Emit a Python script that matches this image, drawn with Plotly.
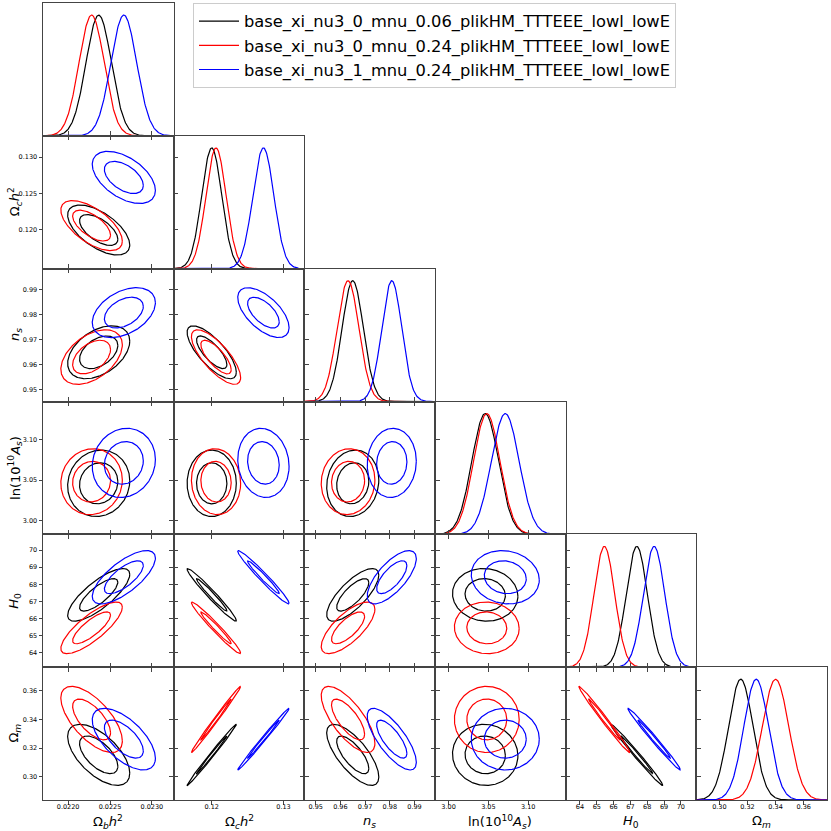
import numpy as np
import plotly.graph_objects as go

# ---------------- data ----------------
param_labels = [
    "Ω<sub><i>b</i></sub><i>h</i><sup>2</sup>",
    "Ω<sub><i>c</i></sub><i>h</i><sup>2</sup>",
    "<i>n<sub>s</sub></i>",
    "ln(10<sup>10</sup><i>A<sub>s</sub></i>)",
    "<i>H</i><sub>0</sub>",
    "Ω<sub><i>m</i></sub>",
]
axis_ranges = [
    [0.02170, 0.02326],
    [0.1147, 0.1329],
    [0.9454, 0.9983],
    [2.983, 3.147],
    [63.15, 70.92],
    [0.2836, 0.3766],
]
xtick_vals = [
    [0.0220, 0.0225, 0.0230],
    [0.12, 0.13],
    [0.95, 0.96, 0.97, 0.98, 0.99],
    [3.00, 3.05, 3.10],
    [64, 65, 66, 67, 68, 69, 70],
    [0.30, 0.32, 0.34, 0.36],
]
xtick_text = [
    ["0.0220", "0.0225", "0.0230"],
    ["0.12", "0.13"],
    ["0.95", "0.96", "0.97", "0.98", "0.99"],
    ["3.00", "3.05", "3.10"],
    ["64", "65", "66", "67", "68", "69", "70"],
    ["0.30", "0.32", "0.34", "0.36"],
]
ytick_vals = [
    [],
    [0.120, 0.125, 0.130],
    [0.95, 0.96, 0.97, 0.98, 0.99],
    [3.00, 3.05, 3.10],
    [64, 65, 66, 67, 68, 69, 70],
    [0.30, 0.32, 0.34, 0.36],
]
ytick_text = [
    [],
    ["0.120", "0.125", "0.130"],
    ["0.95", "0.96", "0.97", "0.98", "0.99"],
    ["3.00", "3.05", "3.10"],
    ["64", "65", "66", "67", "68", "69", "70"],
    ["0.30", "0.32", "0.34", "0.36"],
]

chain_names = [
    "base_xi_nu3_0_mnu_0.06_plikHM_TTTEEE_lowl_lowE",
    "base_xi_nu3_0_mnu_0.24_plikHM_TTTEEE_lowl_lowE",
    "base_xi_nu3_1_mnu_0.24_plikHM_TTTEEE_lowl_lowE",
]
chain_colors = ["#000000", "#ff0000", "#0000ff"]

# marginal means / standard deviations  [ombh2, omch2, ns, lnAs, H0, Omega_m]
mean_black = [0.022365, 0.12000, 0.9650, 3.0460, 67.38, 0.3152]
mean_red = [0.022280, 0.12060, 0.9631, 3.0480, 65.45, 0.3400]
mean_blue = [0.022665, 0.12720, 0.9808, 3.0712, 68.41, 0.3262]
sigma_black = [0.0001515, 0.00140, 0.00431, 0.01677, 0.629, 0.00874]
sigma_red = [0.0001500, 0.00140, 0.00444, 0.01661, 0.617, 0.00946]
sigma_blue = [0.0001540, 0.00146, 0.00406, 0.01744, 0.637, 0.00882]

# pairwise correlations, in the order of `pairs`
pairs = [(0, 1), (0, 2), (0, 3), (0, 4), (0, 5),
         (1, 2), (1, 3), (1, 4), (1, 5),
         (2, 3), (2, 4), (2, 5),
         (3, 4), (3, 5),
         (4, 5)]
corr_black = [-0.60, 0.42, 0.08, 0.78, -0.60,
              -0.75, 0.00, -0.975, 0.994,
              0.10, 0.75, -0.72,
              -0.05, -0.03,
              -0.990]
corr_red = [-0.62, 0.45, 0.05, 0.80, -0.65,
            -0.75, -0.05, -0.975, 0.994,
            0.05, 0.72, -0.72,
            -0.03, 0.00,
            -0.990]
corr_blue = [-0.50, 0.40, 0.10, 0.72, -0.62,
             -0.60, -0.10, -0.975, 0.994,
             0.05, 0.70, -0.75,
             -0.10, 0.00,
             -0.990]

contour_levels = [0.68, 0.95]

# ---------------- build figure ----------------
chains = [
    (mean_black, sigma_black, corr_black),
    (mean_red, sigma_red, corr_red),
    (mean_blue, sigma_blue, corr_blue),
]
npar = 6
axc = "#444444"
font_family = "DejaVu Sans"
tickfont = dict(size=6.5, color="black", family=font_family)

ML, MR, MT, MB = 43, 4, 3, 31
W = H = 831
PW = W - ML - MR
PH = H - MT - MB

fig = go.Figure()
layout = {}
axis_id = {}
k = 0
for i in range(npar):
    for j in range(i + 1):
        k += 1
        axis_id[(i, j)] = k
        sfx = "" if k == 1 else str(k)
        xdom = [j / npar, (j + 1) / npar]
        ydom = [1 - (i + 1) / npar, 1 - i / npar]
        diag = (i == j)
        layout["xaxis" + sfx] = dict(
            domain=xdom, anchor="y" + sfx, range=axis_ranges[j],
            tickmode="array", tickvals=xtick_vals[j], ticktext=xtick_text[j],
            showticklabels=(i == npar - 1), ticks="outside", ticklen=3.5,
            tickwidth=1, tickcolor=axc, showline=True, linecolor=axc,
            linewidth=1, mirror=(True if diag else "ticks"),
            showgrid=False, zeroline=False, tickfont=tickfont, ticklabelstandoff=-3,
        )
        if diag:
            layout["yaxis" + sfx] = dict(
                domain=ydom, anchor="x" + sfx, range=[0, 1.1],
                showticklabels=False, ticks="", showline=True, mirror=True,
                linecolor=axc, linewidth=1, showgrid=False, zeroline=False,
            )
        else:
            layout["yaxis" + sfx] = dict(
                domain=ydom, anchor="x" + sfx, range=axis_ranges[i],
                tickmode="array", tickvals=ytick_vals[i], ticktext=ytick_text[i],
                showticklabels=(j == 0), ticks="outside", ticklen=3.5,
                tickwidth=1, tickcolor=axc, showline=True, linecolor=axc,
                linewidth=1, mirror="ticks", showgrid=False, zeroline=False,
                tickfont=tickfont, ticklabelstandoff=0,
            )

t = np.linspace(0, 2 * np.pi, 300)
for c, (mu, sd, rho) in enumerate(chains):
    col = chain_colors[c]
    # 1D marginals on the diagonal
    for i in range(npar):
        kk = axis_id[(i, i)]
        sfx = "" if kk == 1 else str(kk)
        lo, hi = axis_ranges[i]
        xs = np.linspace(lo, hi, 300)
        ys = np.exp(-0.5 * ((xs - mu[i]) / sd[i]) ** 2)
        fig.add_trace(go.Scatter(
            x=xs, y=ys, mode="lines", line=dict(color=col, width=1.2),
            xaxis="x" + sfx, yaxis="y" + sfx,
            name=chain_names[c], legendgroup=chain_names[c],
            showlegend=(i == 0), hoverinfo="skip",
        ))
    # 2D contours
    for (a, b), r in zip(pairs, rho):
        kk = axis_id[(b, a)]
        sfx = "" if kk == 1 else str(kk)
        cov = np.array([[sd[a] ** 2, r * sd[a] * sd[b]],
                        [r * sd[a] * sd[b], sd[b] ** 2]])
        L = np.linalg.cholesky(cov)
        for p in contour_levels:
            rad = np.sqrt(-2 * np.log(1 - p))
            pts = L @ np.vstack([np.cos(t), np.sin(t)]) * rad
            fig.add_trace(go.Scatter(
                x=pts[0] + mu[a], y=pts[1] + mu[b], mode="lines",
                line=dict(color=col, width=1.2),
                xaxis="x" + sfx, yaxis="y" + sfx,
                legendgroup=chain_names[c], showlegend=False, hoverinfo="skip",
            ))

annotations = []
for j in range(npar):
    annotations.append(dict(
        text=param_labels[j], xref="paper", yref="paper",
        x=(j + 0.5) / npar, y=-(811 - (H - MB)) / PH,
        xanchor="center", yanchor="top", showarrow=False,
        font=dict(size=13, color="black", family=font_family),
    ))
for i in range(1, npar):
    annotations.append(dict(
        text=param_labels[i], xref="paper", yref="paper",
        x=(15 - ML) / PW, y=1 - (i + 0.5) / npar,
        xanchor="center", yanchor="middle", textangle=-90, showarrow=False,
        font=dict(size=13, color="black", family=font_family),
    ))

fig.update_layout(
    **layout,
    annotations=annotations,
    width=W, height=H,
    margin=dict(l=ML, r=MR, t=MT, b=MB, pad=0),
    paper_bgcolor="white", plot_bgcolor="white",
    template="none",
    font=dict(family=font_family, color="black"),
    showlegend=True,
    legend=dict(
        x=(193 - ML) / PW, y=1.0, xanchor="left", yanchor="top",
        font=dict(size=16.3, family=font_family, color="black"),
        bgcolor="white", bordercolor="#cccccc", borderwidth=1,
        itemwidth=40, tracegroupgap=0,
    ),
)

fig.write_html("out.html", config={"displayModeBar": False},
               post_script="document.body.style.margin='0px';")
